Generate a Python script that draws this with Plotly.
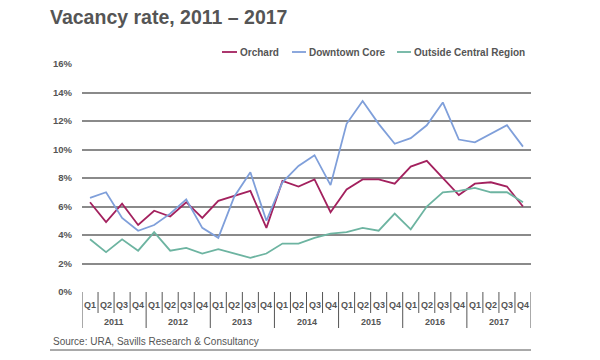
import plotly.graph_objects as go

quarters = ["Q1", "Q2", "Q3", "Q4"]
years = ["2011", "2012", "2013", "2014", "2015", "2016", "2017"]

orchard = [6.3, 4.9, 6.2, 4.7, 5.7, 5.3, 6.3, 5.2, 6.4, 6.75, 7.1, 4.5,
           7.8, 7.4, 7.9, 5.6, 7.2, 7.9, 7.9, 7.6, 8.8, 9.2, 8.0, 6.8,
           7.6, 7.7, 7.4, 6.0]
downtown = [6.6, 7.0, 5.2, 4.3, 4.7, 5.5, 6.5, 4.5, 3.8, 6.7, 8.4, 5.0,
            7.7, 8.85, 9.6, 7.5, 11.8, 13.4, 11.8, 10.4, 10.8, 11.7, 13.3, 10.7,
            10.5, 11.1, 11.7, 10.2]
outside = [3.7, 2.8, 3.7, 2.9, 4.2, 2.9, 3.1, 2.7, 3.0, 2.7, 2.4, 2.7,
           3.4, 3.4, 3.8, 4.1, 4.2, 4.5, 4.3, 5.5, 4.4, 6.0, 7.0, 7.1,
           7.3, 7.0, 7.0, 6.3]
yticks = [0, 2, 4, 6, 8, 10, 12, 14, 16]

n = len(years) * len(quarters)
xs = list(range(n))

fig = go.Figure()
series = [("Orchard", orchard, "#A3215E"),
          ("Downtown Core", downtown, "#7F9FDA"),
          ("Outside Central Region", outside, "#6DB4A1")]
for name, vals, col in series:
    fig.add_trace(go.Scatter(x=xs, y=vals, mode="lines", name=name, showlegend=False,
                             line=dict(color=col, width=1.8)))

GRAY = "#555555"
FONT = "Liberation Sans"
L = 82; R = 531; T = 64; B = 292
ph = B - T
pw = R - L
def py(pix):
    return (B - pix) / ph
def px(pix):
    return (pix - L) / pw

shapes = []
annotations = []
# quarter separators
for i in range(n + 1):
    xb = i - 0.5
    end = 328 if i % 4 == 0 else 313
    shapes.append(dict(type="line", xref="x", yref="paper", x0=xb, x1=xb,
                       y0=0, y1=py(end), line=dict(color=GRAY, width=1)))
# source line
shapes.append(dict(type="line", xref="paper", yref="paper", x0=px(50),
                   x1=1, y0=py(350), y1=py(350), line=dict(color=GRAY, width=1)))

# manual legend
legend_pos = [(222, 237), (292, 306), (397, 411)]
for (name, vals, col), (lx0, lx1) in zip(series, legend_pos):
    shapes.append(dict(type="line", xref="paper", yref="paper", x0=px(lx0), x1=px(lx1),
                       y0=py(52), y1=py(52), line=dict(color=col, width=1.8)))
    annotations.append(dict(x=px(lx1 + 1), y=py(52), xref="paper", yref="paper",
                            xanchor="left", yanchor="middle", text="<b>" + name + "</b>",
                            showarrow=False,
                            font=dict(size=10, color=GRAY, family=FONT)))

for i in range(n):
    annotations.append(dict(x=i, y=py(305), xref="x", yref="paper", yanchor="middle",
                            text="<b>" + quarters[i % 4] + "</b>", showarrow=False,
                            font=dict(size=9, color=GRAY, family=FONT)))
for j, yr in enumerate(years):
    annotations.append(dict(x=j * 4 + 1.5, y=py(322), xref="x", yref="paper",
                            yanchor="middle",
                            text="<b>" + yr + "</b>", showarrow=False,
                            font=dict(size=9, color=GRAY, family=FONT)))
annotations.append(dict(x=px(51), y=py(341), xref="paper", yref="paper",
                        xanchor="left", yanchor="middle",
                        text="Source: URA, Savills Research & Consultancy",
                        showarrow=False,
                        font=dict(size=10, color=GRAY, family=FONT)))

fig.update_layout(
    width=600, height=360,
    margin=dict(l=L, r=600 - R, t=T, b=360 - B, pad=0),
    plot_bgcolor="white", paper_bgcolor="white",
    showlegend=False,
    title=dict(text="<b>Vacancy rate, 2011 – 2017</b>", x=50 / 600, xanchor="left",
               y=1 - 17 / 360, yanchor="middle",
               font=dict(size=19.5, color="#555555", family=FONT)),
    xaxis=dict(range=[-0.5, n - 0.5], showticklabels=False, showgrid=False,
               zeroline=False, ticks="", fixedrange=True),
    yaxis=dict(range=[0, 16], tickvals=yticks,
               ticktext=["<b>%d%%</b>" % v for v in yticks],
               showgrid=True, gridcolor="#8A8A8A", gridwidth=1.5,
               zeroline=False, ticks="", ticklabelstandoff=9,
               tickfont=dict(size=9.5, color=GRAY, family=FONT)),
    shapes=shapes, annotations=annotations,
)

fig.write_html("out.html", config={"displayModeBar": False},
               post_script="document.body.style.margin='0';")
